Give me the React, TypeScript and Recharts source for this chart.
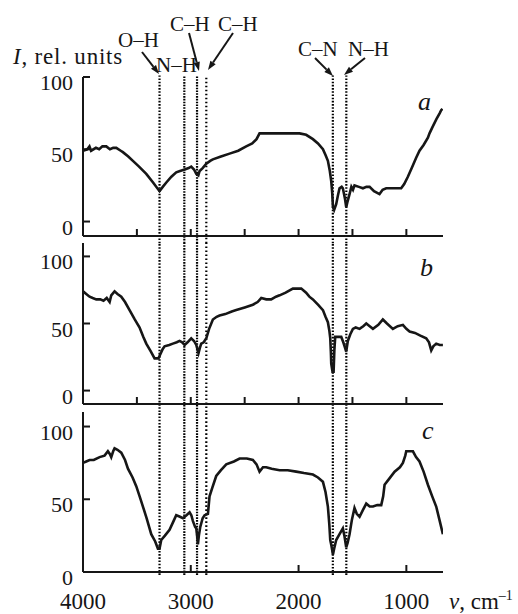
import { Line, LineChart, ReferenceLine, XAxis, YAxis } from "recharts"

const serif = "'Liberation Serif', 'Times New Roman', serif"
const ink = "#161616"

// wavenumber (cm-1) and intensity (rel. units)
const nuA = [4000, 3960, 3940, 3925, 3880, 3850, 3820, 3784, 3750, 3720, 3691, 3650, 3630, 3580, 3537, 3480, 3413, 3350, 3290, 3260, 3227, 3180, 3135, 3100, 3057, 3020, 2996, 2970, 2949, 2930, 2918, 2890, 2856, 2820, 2795, 2720, 2640, 2560, 2486, 2430, 2390, 2362, 2331, 2200, 2100, 1991, 1930, 1867, 1820, 1774, 1750, 1728, 1710, 1697, 1688, 1681, 1670, 1651, 1635, 1620, 1600, 1589, 1570, 1558, 1545, 1527, 1510, 1495, 1481, 1440, 1403, 1370, 1341, 1300, 1249, 1220, 1187, 1120, 1048, 1020, 986, 950, 910, 878, 840, 800, 785, 760, 720, 690, 677, 665]
const intA = [49, 50, 52, 49, 51, 50, 52, 52, 50, 51, 51, 49, 48, 45, 42, 38, 33, 27, 21, 24, 27, 31, 34, 35, 36, 37, 38, 36, 33, 32, 35, 37, 40, 42, 43, 45, 47, 49, 52, 54, 57, 61, 61, 61, 61, 61, 60, 57, 54, 50, 46, 42, 35, 28, 20, 10, 8, 12, 18, 23, 24, 23, 16, 10, 14, 19, 24, 22, 25, 24, 23, 24, 24, 21, 19, 22, 23, 23, 23, 26, 31, 37, 44, 49, 53, 58, 61, 65, 71, 75, 77, 78]

const nuB = [4000, 3970, 3939, 3910, 3877, 3840, 3810, 3780, 3753, 3738, 3707, 3680, 3645, 3610, 3568, 3520, 3475, 3440, 3413, 3370, 3336, 3300, 3289, 3260, 3243, 3200, 3166, 3130, 3104, 3080, 3057, 3030, 2996, 2970, 2949, 2935, 2928, 2915, 2903, 2880, 2856, 2830, 2795, 2760, 2733, 2680, 2620, 2578, 2500, 2424, 2380, 2346, 2300, 2254, 2210, 2176, 2120, 2053, 2000, 1975, 1930, 1900, 1867, 1820, 1774, 1750, 1728, 1715, 1706, 1700, 1697, 1685, 1675, 1668, 1660, 1630, 1604, 1585, 1573, 1558, 1543, 1520, 1496, 1470, 1434, 1400, 1372, 1340, 1310, 1260, 1218, 1180, 1125, 1080, 1032, 1000, 970, 920, 870, 816, 790, 769, 750, 723, 690, 661]
const intB = [74, 72, 70, 69, 68, 68, 67, 69, 66, 71, 74, 72, 70, 66, 60, 53, 47, 40, 35, 29, 24, 24, 26, 31, 33, 34, 35, 36, 37, 36, 34, 36, 39, 37, 34, 30, 28, 32, 35, 36, 39, 46, 53, 55, 56, 57, 59, 60, 62, 64, 66, 69, 68, 68, 70, 71, 73, 76, 76, 76, 73, 70, 68, 64, 60, 55, 51, 45, 39, 28, 20, 14, 14, 30, 40, 40, 40, 36, 33, 29, 37, 42, 46, 47, 46, 48, 50, 48, 46, 49, 53, 50, 46, 48, 49, 46, 44, 43, 41, 39, 36, 30, 33, 35, 34, 34]

const nuC = [4000, 3970, 3939, 3900, 3846, 3800, 3769, 3750, 3738, 3720, 3707, 3680, 3645, 3610, 3583, 3540, 3506, 3470, 3444, 3410, 3367, 3330, 3305, 3290, 3274, 3240, 3197, 3160, 3135, 3100, 3073, 3040, 3011, 2995, 2980, 2960, 2949, 2940, 2934, 2925, 2912, 2890, 2872, 2841, 2826, 2800, 2764, 2720, 2671, 2600, 2547, 2480, 2424, 2390, 2362, 2330, 2300, 2250, 2176, 2100, 2022, 1950, 1867, 1820, 1774, 1750, 1728, 1715, 1706, 1695, 1681, 1670, 1651, 1620, 1589, 1575, 1558, 1545, 1527, 1505, 1481, 1460, 1434, 1400, 1372, 1340, 1310, 1270, 1233, 1215, 1202, 1160, 1109, 1060, 1032, 1010, 1001, 970, 939, 910, 878, 840, 800, 760, 723, 690, 661]
const intC = [75, 76, 77, 77, 79, 80, 83, 81, 79, 83, 85, 84, 82, 77, 71, 65, 59, 51, 45, 37, 26, 21, 16, 16, 22, 25, 29, 35, 39, 38, 37, 39, 41, 39, 35, 31, 30, 24, 19, 25, 31, 37, 39, 40, 52, 58, 66, 70, 74, 76, 78, 78, 77, 74, 69, 72, 72, 71, 70, 70, 69, 68, 67, 65, 62, 55, 45, 33, 22, 18, 12, 16, 22, 26, 30, 25, 17, 20, 26, 36, 44, 40, 38, 43, 47, 45, 45, 46, 46, 52, 60, 64, 69, 72, 75, 80, 83, 83, 83, 79, 76, 69, 60, 52, 45, 35, 26]

// band positions marked by dotted lines
const bandNu = [3290, 3060, 2942, 2856, 1682, 1557]
const bandDash = ["1.6 1.6", "1.6 1.2", "1.6 1.2", "1.6 2.4", "1.6 1.6", "1.6 1.6"]

const nuDomain = [660, 4000]
const yTicks = [0, 50, 100]
const minorTicks = [3500, 3000, 2500, 2000, 1500, 1000]
const labelTicks = [4000, 3000, 2000, 1000]

const toRows = (nu: number[], val: number[]) => nu.map((n, i) => ({ nu: n, I: val[i] }))

// span: y range (in panel units) of the dotted band lines, a bit past the plot to bridge the gaps
const panels = [
  { key: "a", rows: toRows(nuA, intA), top: 77, bottom: 236, domain: [-10, 100], span: [-15, 101], ticks: minorTicks, labels: false },
  { key: "b", rows: toRows(nuB, intB), top: 243, bottom: 404, domain: [-10, 110], span: [-16, 110], ticks: minorTicks, labels: false },
  { key: "c", rows: toRows(nuC, intC), top: 412, bottom: 572, domain: [0, 110], span: [-2, 110], ticks: labelTicks, labels: true },
]

const W = 518
const H = 614
const LEFT = 83
const RIGHT = 75

function YTick({ x, y, payload }: any) {
  return (
    <g>
      <line x1={x} y1={y} x2={x + 7} y2={y} stroke={ink} strokeWidth={2} />
      <text x={x - 10} y={y + 13} textAnchor="end" fontSize={22} fontFamily={serif} fill={ink}>
        {payload.value}
      </text>
    </g>
  )
}

function XTick({ x, y, payload, showLabel }: any) {
  return (
    <g>
      <line x1={x} y1={y} x2={x} y2={y - 7} stroke={ink} strokeWidth={2} />
      {showLabel && (
        <text x={x} y={y + 37} textAnchor="middle" fontSize={23} fontFamily={serif} fill={ink}>
          {payload.value}
        </text>
      )}
    </g>
  )
}

function Arrow({ x1, y1, x2, y2 }: { x1: number; y1: number; x2: number; y2: number }) {
  const a = Math.atan2(y2 - y1, x2 - x1)
  const L = 9
  const s = 3.2
  const bx = x2 - L * Math.cos(a)
  const by = y2 - L * Math.sin(a)
  const pts = [
    [x2, y2],
    [bx + s * Math.sin(a), by - s * Math.cos(a)],
    [bx - s * Math.sin(a), by + s * Math.cos(a)],
  ]
    .map((p) => p.join(","))
    .join(" ")
  return (
    <g>
      <line x1={x1} y1={y1} x2={bx} y2={by} stroke={ink} strokeWidth={2} />
      <polygon points={pts} fill={ink} />
    </g>
  )
}

export default function App() {
  return (
    <div style={{ position: "absolute", left: 0, top: 0, width: W, height: H, background: "#fff" }}>
      {panels.map((p) => (
        <div key={p.key} style={{ position: "absolute", left: 0, top: 0 }}>
          <LineChart width={W} height={H} data={p.rows} margin={{ top: p.top, right: RIGHT, bottom: 0, left: 0 }}>
            <XAxis
              dataKey="nu"
              type="number"
              domain={nuDomain}
              reversed
              allowDataOverflow
              ticks={p.ticks}
              interval={0}
              height={H - p.bottom}
              tickSize={0}
              tickMargin={0}
              tickLine={false}
              axisLine={{ stroke: ink, strokeWidth: 2 }}
              tick={(props: any) => <XTick {...props} showLabel={p.labels} />}
            />
            <YAxis
              type="number"
              domain={p.domain}
              allowDataOverflow
              ticks={yTicks}
              interval={0}
              width={LEFT}
              tickSize={0}
              tickMargin={0}
              tickLine={false}
              axisLine={{ stroke: ink, strokeWidth: 2 }}
              tick={(props: any) => <YTick {...props} />}
            />
            {bandNu.map((n, i) => (
              <ReferenceLine
                key={n}
                segment={[
                  { x: n, y: p.span[0] },
                  { x: n, y: p.span[1] },
                ]}
                stroke="#000"
                strokeWidth={2.2}
                strokeDasharray={bandDash[i]}
                ifOverflow="visible"
              />
            ))}
            <Line
              type="linear"
              dataKey="I"
              stroke={ink}
              strokeWidth={2.6}
              dot={false}
              isAnimationActive={false}
            />
          </LineChart>
        </div>
      ))}

      <svg width={W} height={H} style={{ position: "absolute", left: 0, top: 0 }}>
        <g fontFamily={serif} fill={ink}>
          <text x={13} y={64} fontSize={23} letterSpacing={0.8}>
            <tspan fontStyle="italic">I</tspan>, rel. units
          </text>
          <text x={118} y={47} fontSize={21}>O–H</text>
          <text x={156} y={72} fontSize={21}>N–H</text>
          <text x={170} y={31} fontSize={21}>C–H</text>
          <text x={218} y={31} fontSize={21}>C–H</text>
          <text x={298} y={56} fontSize={21}>C–N</text>
          <text x={348} y={56} fontSize={21}>N–H</text>
          <text x={418} y={110} fontSize={26} fontStyle="italic">a</text>
          <text x={420} y={276} fontSize={26} fontStyle="italic">b</text>
          <text x={422} y={439} fontSize={26} fontStyle="italic">c</text>
          <text x={449} y={609} fontSize={23}>
            <tspan fontStyle="italic">ν</tspan>, cm
            <tspan fontSize={14} dy={-9}>–1</tspan>
          </text>
        </g>
        <Arrow x1={142} y1={52} x2={159} y2={74} />
        <Arrow x1={189} y1={33} x2={199} y2={71} />
        <Arrow x1={233} y1={33} x2={208} y2={70} />
        <Arrow x1={315} y1={58} x2={333} y2={76} />
        <Arrow x1={365} y1={58} x2={344} y2={75} />
      </svg>
    </div>
  )
}
